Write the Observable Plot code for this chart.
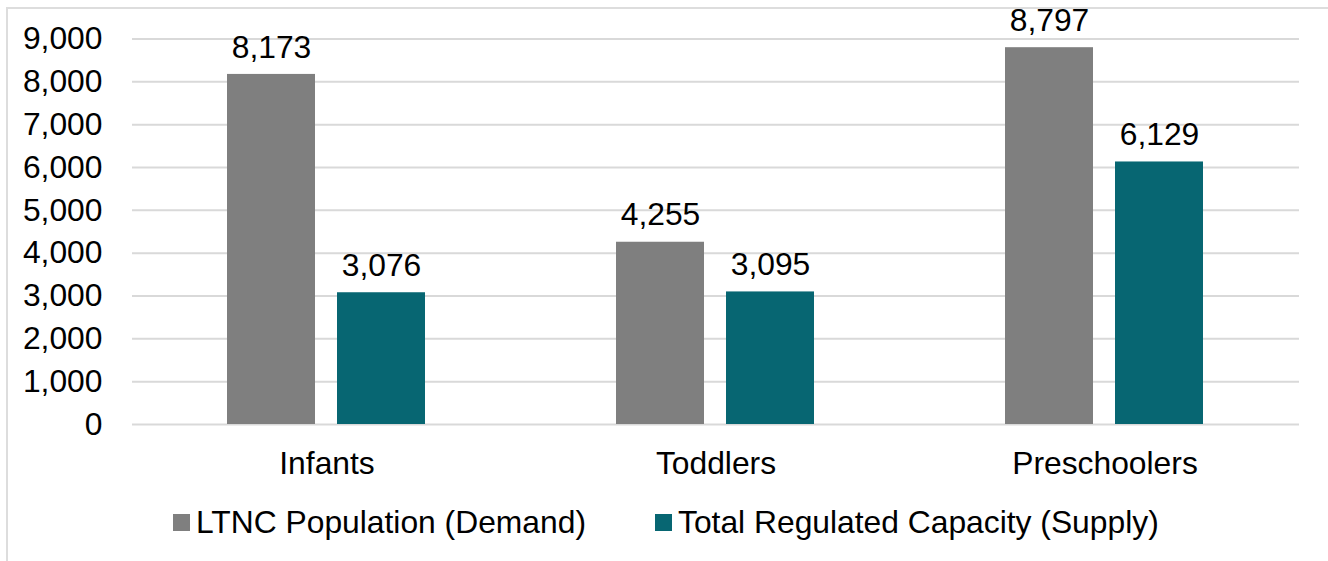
<!DOCTYPE html>
<html><head><meta charset="utf-8">
<script src="https://cdn.jsdelivr.net/npm/d3@7"></script>
<script src="https://cdn.jsdelivr.net/npm/@observablehq/plot@0.6"></script>
<style>
body{margin:0;background:#fff;font-family:"Liberation Sans",Arial,sans-serif;width:1328px;height:561px;overflow:hidden;position:relative;}
#frame{position:absolute;left:6px;top:7px;width:1330px;height:560px;border:2px solid #dddddd;box-sizing:border-box;}
#chart{position:absolute;left:0;top:0;}
#legend{position:absolute;left:173px;top:500px;height:44px;display:flex;align-items:center;font-size:31.8px;color:#000;white-space:nowrap;}
.item{display:flex;align-items:center;}
.sw{width:17px;height:17px;margin-right:6px;}
</style></head>
<body>
<div id="frame"></div>
<div id="chart"></div>
<div id="legend"></div>
<script>
const categories = ["Infants", "Toddlers", "Preschoolers"];
const seriesNames = ["LTNC Population (Demand)", "Total Regulated Capacity (Supply)"];
const demand = [8173, 4255, 8797];
const supply = [3076, 3095, 6129];
const colors = ["#7f7f7f", "#076672"];
const yTicks = [0, 1000, 2000, 3000, 4000, 5000, 6000, 7000, 8000, 9000];

const data = [];
categories.forEach((c, i) => {
  data.push({category: c, series: seriesNames[0], value: demand[i]});
  data.push({category: c, series: seriesNames[1], value: supply[i]});
});
const fmt = d3.format(",");

const chart = Plot.plot({
  width: 1328,
  height: 490,
  marginLeft: 131,
  marginRight: 28,
  marginTop: 38.5,
  marginBottom: 66,
  style: {fontFamily: "'Liberation Sans', Arial, sans-serif", fontSize: "31.8px", color: "#000", background: "transparent", overflow: "visible"},
  fx: {domain: categories, padding: 0, label: null, axis: "bottom", tickSize: 0, tickPadding: 27},
  x: {domain: seriesNames, paddingInner: 0.198, paddingOuter: 0.854, axis: null},
  y: {domain: [0, 9000], ticks: yTicks, tickFormat: fmt, label: null, tickSize: 0, tickPadding: 30},
  color: {domain: seriesNames, range: colors},
  marks: [
    Plot.gridY(yTicks, {stroke: "#d9d9d9", strokeWidth: 2, strokeOpacity: 1}),
    Plot.barY(data, {fx: "category", x: "series", y: "value", fill: "series"}),
    Plot.text(data, {fx: "category", x: "series", y: "value", text: d => fmt(d.value), dy: -27, lineAnchor: "middle", fill: "#000", fontSize: 31.8})
  ]
});
document.getElementById("chart").appendChild(chart);

const legend = document.getElementById("legend");
seriesNames.forEach((s, i) => {
  const item = document.createElement("div");
  item.className = "item";
  if (i > 0) item.style.marginLeft = "69px";
  const sw = document.createElement("span");
  sw.className = "sw";
  sw.style.background = colors[i];
  const t = document.createElement("span");
  t.textContent = s;
  item.appendChild(sw);
  item.appendChild(t);
  legend.appendChild(item);
});
</script>
</body></html>
